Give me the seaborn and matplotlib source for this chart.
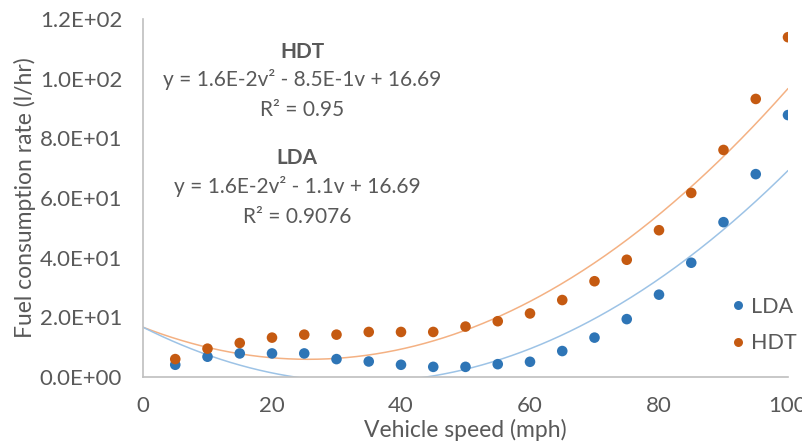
import numpy as np
import pandas as pd
import matplotlib
matplotlib.use("Agg")
import matplotlib.pyplot as plt
import seaborn as sns

speed = [5, 10, 15, 20, 25, 30, 35, 40, 45, 50, 55, 60, 65, 70, 75, 80, 85, 90, 95, 100]
lda = [4.1, 6.8, 7.9, 7.9, 7.9, 6.0, 5.2, 4.1, 3.4, 3.4, 4.3, 5.1, 8.7, 13.2, 19.4, 27.6, 38.3, 51.9, 68.0, 87.8]
hdt = [6.0, 9.5, 11.4, 13.2, 14.2, 14.2, 15.1, 15.1, 15.1, 16.9, 18.7, 21.3, 25.8, 32.1, 39.3, 49.2, 61.7, 76.1, 93.2, 113.9]
# quadratic trend-line coefficients (a, b, c) as drawn in the chart
hdt_fit = [0.0164, -0.84, 16.69]
lda_fit = [0.01614, -1.089, 16.69]
series = ["LDA", "HDT"]
yticks = [0, 20, 40, 60, 80, 100, 120]
ytick_labels = ["0.0E+00", "2.0E+01", "4.0E+01", "6.0E+01", "8.0E+01", "1.0E+02", "1.2E+02"]
xticks = [0, 20, 40, 60, 80, 100]

sns.set_theme(style="white")
plt.rcParams['font.family'] = ['Lato', 'DejaVu Sans']
gray = "#595959"

df = pd.DataFrame({"speed": speed * 2, "rate": lda + hdt,
                   "series": ["LDA"] * len(speed) + ["HDT"] * len(speed)})

fig = plt.figure(figsize=(8.03, 4.43), dpi=100)
ax = fig.add_axes([143/803, 1 - 377/443, (788-143)/803, (377-19)/443])

pt_colors = {"LDA": "#2E75B6", "HDT": "#C55A11"}
tr_colors = {"LDA": "#9DC3E6", "HDT": "#F4B183"}

xs = np.linspace(0, 100, 400)
for name, coef in (("HDT", hdt_fit), ("LDA", lda_fit)):
    sns.lineplot(x=xs, y=np.polyval(coef, xs), ax=ax, color=tr_colors[name],
                 lw=1.1, zorder=2)

sns.scatterplot(data=df, x="speed", y="rate", hue="series", hue_order=series,
                palette=pt_colors, s=58, edgecolor="none", ax=ax, zorder=3)

ax.set_xlim(0, 100)
ax.set_ylim(0, 120)
ax.set_xticks(xticks)
ax.set_yticks(yticks)
ax.set_yticklabels(ytick_labels)
ax.tick_params(axis="both", labelsize=16, colors=gray, length=0)
ax.tick_params(axis="y", pad=15)
ax.tick_params(axis="x", pad=14)
for lab in ax.get_xticklabels():
    lab.set_clip_on(False)
for s in ("top", "right"):
    ax.spines[s].set_visible(False)
for s in ("left", "bottom"):
    ax.spines[s].set_color("#BFBFBF")
    ax.spines[s].set_linewidth(1.2)
ax.set_xlabel("Vehicle speed (mph)", fontsize=16.5, color=gray)
ax.xaxis.set_label_coords((465 - 143) / 645, -(419 - 377) / 358)
ax.set_ylabel("Fuel consumption rate (l/hr)", fontsize=16.5, color=gray)
ax.yaxis.set_label_coords(-(143 - 36) / 645, 0.5)

leg = ax.legend(loc="center left", bbox_to_anchor=((729 - 143) / 645, (377 - 325) / 358),
                frameon=False, fontsize=15.5, labelcolor=gray, handletextpad=0.2,
                handlelength=0.8, markerscale=0.85, labelspacing=0.75,
                borderaxespad=0, borderpad=0)

tkw = dict(transform=ax.transData, ha="center", va="center", color=gray, fontsize=15)
ax.text(24.7, 108.9, "HDT", fontweight="bold", **tkw)
ax.text(24.7, 99.6, "y = 1.6E-2v² - 8.5E-1v + 16.69", **tkw)
ax.text(24.7, 89.5, "R² = 0.95", **tkw)
ax.text(23.9, 73.4, "LDA", fontweight="bold", **tkw)
ax.text(23.9, 63.7, "y = 1.6E-2v² - 1.1v + 16.69", **tkw)
ax.text(23.9, 53.6, "R² = 0.9076", **tkw)

fig.savefig("out.png", dpi=100)
